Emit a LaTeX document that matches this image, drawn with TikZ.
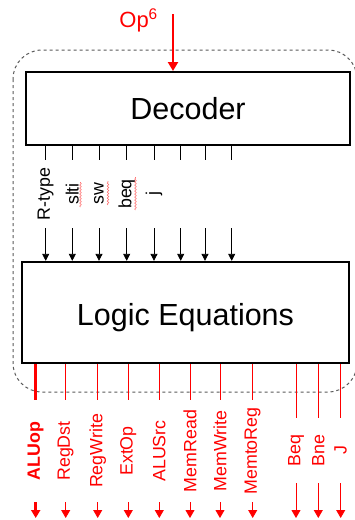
\documentclass[tikz,border=0pt]{standalone}
\usepackage{fontspec}
\setmainfont{Liberation Sans}
\usetikzlibrary{arrows.meta,decorations.pathmorphing}

\tikzset{
  box/.style={draw, line width=2pt, fill=white, inner sep=0pt},
  inlabel/.style={rotate=90, inner sep=0pt, minimum width=68pt, font=\fontsize{17.8}{18}\selectfont},
  outlabel/.style={rotate=90, inner sep=0pt, minimum width=102pt, text=red, font=\fontsize{17.8}{18}\selectfont},
  brlabel/.style={outlabel, minimum width=65pt},
  inwire/.style={line width=0.8pt},
  inarrow/.style={inwire, -{Triangle[length=7pt,width=7pt]}},
  outwire/.style={red, line width=0.8pt},
  outarrow/.style={outwire, -{Triangle[length=8pt,width=9pt]}},
  squiggle/.style={red!55, line width=0.6pt, decorate, decoration={snake, amplitude=0.8pt, segment length=3pt}}
}

\begin{document}
\begin{tikzpicture}[x=1pt,y=-1pt]
        \useasboundingbox (0,0) rectangle (354,520);

        % Draw dashed frame
        \draw[gray!70!black, line width=1pt, dash pattern=on 3pt off 3pt, rounded corners=29pt] (13,50) rectangle (357,392);

        % Draw boxes
        \node[box, minimum width=324pt, minimum height=73pt, font=\fontsize{30.5}{31}\selectfont] (decoder) at (188,108.5) {Decoder};
        \node[box, line width=2.3pt, minimum width=327pt, minimum height=101pt, text height=25pt, text depth=0pt, font=\fontsize{30.5}{31}\selectfont] (logic) at (185.5,312.5) {Logic Equations};

        % Draw opcode input
        \coordinate (op) at (173,14);
        \node[text=red, inner sep=0pt, anchor=base east, font=\fontsize{22}{24}\selectfont] (oplabel) at (158,27) {Op\textsuperscript{6}};
        \draw[red, line width=2.5pt, -{Triangle[length=9pt,width=10pt]}] (op) -- (op |- decoder.north);

        % Draw decoder outputs
        \node[inlabel] (rtype) at (45.7,194) {R-type};
        \node[inlabel] (slti) at (72.3,194) {slti};
        \node[inlabel] (sw) at (99,194) {sw};
        \node[inlabel] (beq) at (126.7,194) {beq};
        \node[inlabel] (jmp) at (154,194) {j};
        \coordinate (d6) at (180.7,160);
        \coordinate (e6) at (180.7,228);
        \coordinate (d7) at (205,160);
        \coordinate (e7) at (205,228);
        \coordinate (d8) at (231.7,160);
        \coordinate (e8) at (231.7,228);

        \draw[squiggle] (80.5,207) -- (80.5,182);
        \draw[squiggle] (108,205) -- (108,181);
        \draw[squiggle] (135.5,210) -- (135.5,177);

        \draw[inwire] (decoder.south -| rtype) -- (rtype.east);
        \draw[inwire] (decoder.south -| slti) -- (slti.east);
        \draw[inwire] (decoder.south -| sw) -- (sw.east);
        \draw[inwire] (decoder.south -| beq) -- (beq.east);
        \draw[inwire] (decoder.south -| jmp) -- (jmp.east);
        \draw[inwire] (decoder.south -| d6) -- (d6);
        \draw[inwire] (decoder.south -| d7) -- (d7);
        \draw[inwire] (decoder.south -| d8) -- (d8);

        \draw[inarrow] (rtype.west) -- (rtype.west |- logic.north);
        \draw[inarrow] (slti.west) -- (slti.west |- logic.north);
        \draw[inarrow] (sw.west) -- (sw.west |- logic.north);
        \draw[inarrow] (beq.west) -- (beq.west |- logic.north);
        \draw[inarrow] (jmp.west) -- (jmp.west |- logic.north);
        \draw[inarrow] (e6) -- (e6 |- logic.north);
        \draw[inarrow] (e7) -- (e7 |- logic.north);
        \draw[inarrow] (e8) -- (e8 |- logic.north);

        % Draw control outputs
        \coordinate (bottom) at (0,518);
        \node[outlabel, font=\fontsize{17.8}{18}\selectfont\bfseries] (aluop) at (35.7,451) {ALUop};
        \node[outlabel] (regdst) at (65.7,451) {RegDst};
        \node[outlabel] (regwrite) at (97.7,451) {RegWrite};
        \node[outlabel] (extop) at (128.3,451) {ExtOp};
        \node[outlabel] (alusrc) at (159.3,451) {ALUSrc};
        \node[outlabel] (memread) at (190,451) {MemRead};
        \node[outlabel] (memwrite) at (220,451) {MemWrite};
        \node[outlabel] (memtoreg) at (252.7,451) {MemtoReg};
        \node[brlabel] (beqout) at (296,450.5) {Beq};
        \node[brlabel] (bneout) at (318.3,450.5) {Bne};
        \node[brlabel] (jout) at (340.7,450.5) {J};

        \draw[outwire, line width=3pt] (logic.south -| aluop) -- (aluop.east);
        \draw[outwire] (logic.south -| regdst) -- (regdst.east);
        \draw[outwire] (logic.south -| regwrite) -- (regwrite.east);
        \draw[outwire] (logic.south -| extop) -- (extop.east);
        \draw[outwire] (logic.south -| alusrc) -- (alusrc.east);
        \draw[outwire] (logic.south -| memread) -- (memread.east);
        \draw[outwire] (logic.south -| memwrite) -- (memwrite.east);
        \draw[outwire] (logic.south -| memtoreg) -- (memtoreg.east);
        \draw[outwire] (logic.south -| beqout) -- (beqout.east);
        \draw[outwire] (logic.south -| bneout) -- (bneout.east);
        \draw[outwire] (logic.south -| jout) -- (jout.east);

        \draw[outarrow, line width=3pt] (aluop.west) -- (aluop.west |- bottom);
        \draw[outarrow] (regdst.west) -- (regdst.west |- bottom);
        \draw[outarrow] (regwrite.west) -- (regwrite.west |- bottom);
        \draw[outarrow] (extop.west) -- (extop.west |- bottom);
        \draw[outarrow] (alusrc.west) -- (alusrc.west |- bottom);
        \draw[outarrow] (memread.west) -- (memread.west |- bottom);
        \draw[outarrow] (memwrite.west) -- (memwrite.west |- bottom);
        \draw[outarrow] (memtoreg.west) -- (memtoreg.west |- bottom);
        \draw[outarrow] (beqout.west) -- (beqout.west |- bottom);
        \draw[outarrow] (bneout.west) -- (bneout.west |- bottom);
        \draw[outarrow] (jout.west) -- (jout.west |- bottom);
    \end{tikzpicture}
\end{document}
